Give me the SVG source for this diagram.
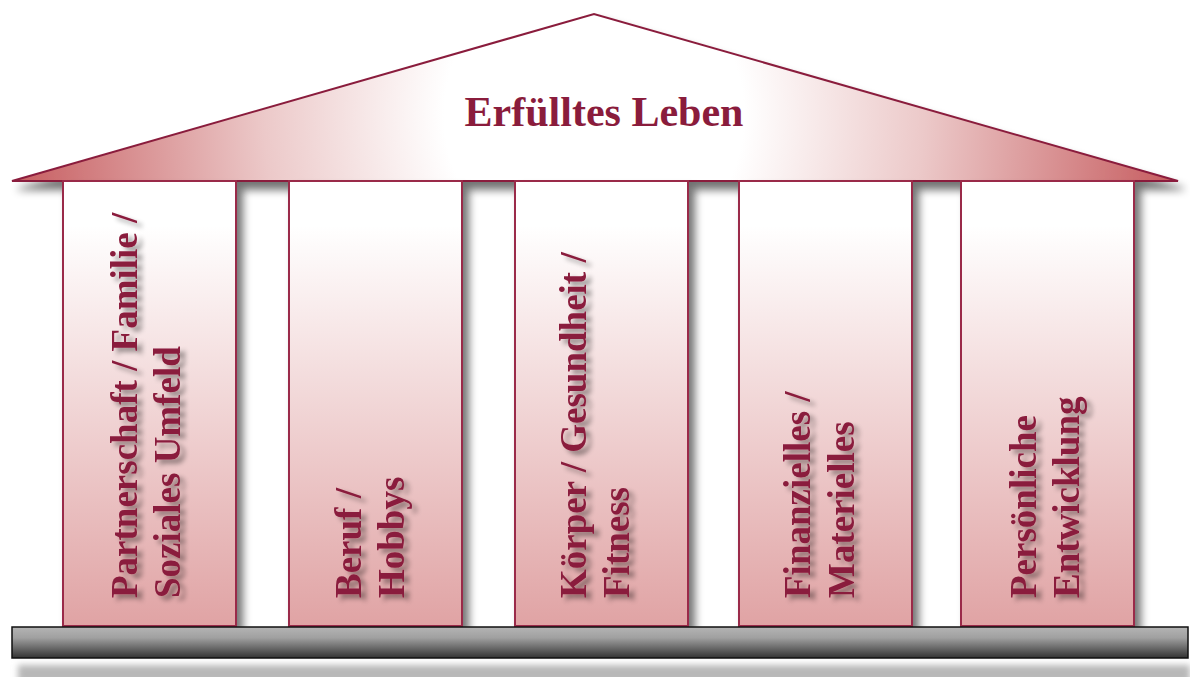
<svg xmlns="http://www.w3.org/2000/svg" width="1190" height="677" viewBox="0 0 1190 677">
  <defs>
    <radialGradient id="roofGrad" gradientUnits="userSpaceOnUse" cx="594" cy="115" r="600">
      <stop offset="0" stop-color="#ffffff"/>
      <stop offset="0.25" stop-color="#ffffff"/>
      <stop offset="0.55" stop-color="#ecc9c9"/>
      <stop offset="1" stop-color="#c45659"/>
    </radialGradient>
    <linearGradient id="pillarGrad" gradientUnits="userSpaceOnUse" x1="0" y1="181" x2="0" y2="626">
      <stop offset="0" stop-color="#ffffff"/>
      <stop offset="0.1" stop-color="#ffffff"/>
      <stop offset="1" stop-color="#e0a3a4"/>
    </linearGradient>
    <linearGradient id="baseGrad" x1="0" y1="0" x2="0" y2="1">
      <stop offset="0" stop-color="#b4b4b4"/>
      <stop offset="0.35" stop-color="#a0a0a0"/>
      <stop offset="1" stop-color="#333333"/>
    </linearGradient>
    <filter id="shadow" x="-10%" y="-10%" width="130%" height="130%">
      <feGaussianBlur in="SourceAlpha" stdDeviation="4"/>
      <feOffset dx="6" dy="8" result="b"/>
      <feComponentTransfer><feFuncA type="linear" slope="0.55"/></feComponentTransfer>
      <feMerge><feMergeNode/><feMergeNode in="SourceGraphic"/></feMerge>
    </filter>
    <filter id="txtShadow" x="-20%" y="-20%" width="140%" height="140%">
      <feGaussianBlur in="SourceAlpha" stdDeviation="2.5"/>
      <feOffset dx="5" dy="4"/>
      <feComponentTransfer><feFuncA type="linear" slope="0.4"/></feComponentTransfer>
      <feMerge><feMergeNode/><feMergeNode in="SourceGraphic"/></feMerge>
    </filter>
    <filter id="blur" x="-5%" y="-50%" width="110%" height="200%">
      <feGaussianBlur stdDeviation="3"/>
    </filter>
  </defs>
  <style>
    .pillar { fill: url(#pillarGrad); stroke: #9a2b4a; stroke-width: 2; }
    .lbl { font-family: "Liberation Serif", "Times New Roman", serif; font-weight: bold; font-size: 37px; fill: #8a1c3c; }
    .title { font-family: "Liberation Serif", "Times New Roman", serif; font-weight: bold; font-size: 42px; fill: #8a1c3c; }
  </style>
  <rect width="1190" height="677" fill="#ffffff"/>

  <g id="roof" filter="url(#shadow)">
    <polygon points="12,181 594,14 1178,181" fill="url(#roofGrad)" stroke="#8a1c3c" stroke-width="2" stroke-linejoin="miter"/>
  </g>

  <g id="base-shadow">
    <rect x="18" y="665" width="1172" height="18" fill="#b8b8b8" filter="url(#blur)"/>
  </g>

  <g id="pillar1" filter="url(#shadow)">
    <rect class="pillar" x="63" y="181" width="173" height="445"/>
  </g>
  <g id="pillar2" filter="url(#shadow)">
    <rect class="pillar" x="289" y="181" width="173" height="445"/>
  </g>
  <g id="pillar3" filter="url(#shadow)">
    <rect class="pillar" x="515" y="181" width="173" height="445"/>
  </g>
  <g id="pillar4" filter="url(#shadow)">
    <rect class="pillar" x="739" y="181" width="173" height="445"/>
  </g>
  <g id="pillar5" filter="url(#shadow)">
    <rect class="pillar" x="961" y="181" width="173" height="445"/>
  </g>

  <g id="base">
    <rect x="12" y="627" width="1176" height="31" fill="url(#baseGrad)" stroke="#111111" stroke-width="1.5"/>
  </g>

  <g id="labels">
    <text class="title" x="604" y="126" text-anchor="middle">Erfülltes Leben</text>
    <g filter="url(#txtShadow)">
      <text class="lbl" transform="translate(137 598) rotate(-90)">Partnerschaft / Familie /</text>
      <text class="lbl" transform="translate(180 598) rotate(-90)">Soziales Umfeld</text>
    </g>
    <g filter="url(#txtShadow)">
      <text class="lbl" transform="translate(361 598) rotate(-90)">Beruf /</text>
      <text class="lbl" transform="translate(404 598) rotate(-90)">Hobbys</text>
    </g>
    <g filter="url(#txtShadow)">
      <text class="lbl" transform="translate(586 598) rotate(-90)">Körper / Gesundheit /</text>
      <text class="lbl" transform="translate(629 598) rotate(-90)">Fitness</text>
    </g>
    <g filter="url(#txtShadow)">
      <text class="lbl" transform="translate(810 598) rotate(-90)">Finanzielles /</text>
      <text class="lbl" transform="translate(854 598) rotate(-90)">Materielles</text>
    </g>
    <g filter="url(#txtShadow)">
      <text class="lbl" transform="translate(1036 598) rotate(-90)">Persönliche</text>
      <text class="lbl" transform="translate(1079 598) rotate(-90)">Entwicklung</text>
    </g>
  </g>
</svg>
